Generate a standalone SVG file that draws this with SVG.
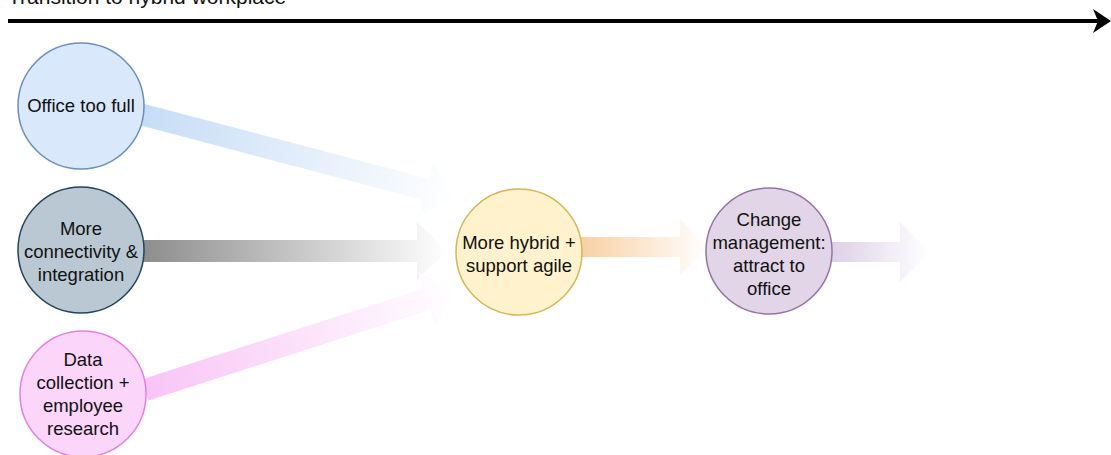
<svg xmlns="http://www.w3.org/2000/svg" width="1111" height="455" viewBox="0 0 1111 455">
<style>
  .lbl { font-family: "Liberation Sans", Arial, sans-serif; font-size: 18.5px; fill: #111; text-anchor: middle; }
  .title { font-family: "Liberation Sans", Arial, sans-serif; font-size: 21px; fill: #111; }
  .node { stroke-width: 1.5; }
</style>
<defs>
  <marker id="head" markerUnits="userSpaceOnUse" markerWidth="20" markerHeight="26" refX="5" refY="12" orient="auto" viewBox="0 0 20 26">
    <path d="M0,0 L18,12 L0,24 L5,12 z" fill="#000"/>
  </marker>
  <linearGradient id="g1" gradientUnits="userSpaceOnUse" x1="140" y1="114" x2="455" y2="197">
    <stop offset="0" stop-color="#c6dcf6"/><stop offset="1" stop-color="#ffffff"/>
  </linearGradient>
  <linearGradient id="g2" gradientUnits="userSpaceOnUse" x1="140" y1="251" x2="447" y2="251">
    <stop offset="0" stop-color="#8c8c8c"/><stop offset="1" stop-color="#ffffff"/>
  </linearGradient>
  <linearGradient id="g3" gradientUnits="userSpaceOnUse" x1="145" y1="390" x2="455" y2="290">
    <stop offset="0" stop-color="#f8c4f6"/><stop offset="1" stop-color="#ffffff"/>
  </linearGradient>
  <linearGradient id="g4" gradientUnits="userSpaceOnUse" x1="578" y1="247" x2="708" y2="247">
    <stop offset="0" stop-color="#f8cfa2"/><stop offset="1" stop-color="#ffffff"/>
  </linearGradient>
  <linearGradient id="g5" gradientUnits="userSpaceOnUse" x1="830" y1="252" x2="930" y2="252">
    <stop offset="0" stop-color="#ddd0e6"/><stop offset="1" stop-color="#ffffff"/>
  </linearGradient>
</defs>

<g id="title">
  <text class="title" x="8" y="4">Transition to hybrid workplace</text>
</g>

<g id="connectors">
  <line x1="8" y1="21" x2="1098" y2="21" stroke="#000" stroke-width="4" marker-end="url(#head)"/>
  <polygon fill="url(#g1)" points="137.2,124.6 423.2,200.0 418.9,216.4 455,197 433.1,162.3 428.8,178.7 142.8,103.4"/>
  <polygon fill="url(#g2)" points="140,240 417,240 417,222 447,251 417,280 417,262 140,262"/>
  <polygon fill="url(#g3)" points="148.4,400.5 429.8,309.7 435.1,325.9 455,290 417.9,272.6 423.1,288.7 141.6,379.5"/>
  <polygon fill="url(#g4)" points="578,237 680,237 680,219 708,247 680,275 680,257 578,257"/>
  <polygon fill="url(#g5)" points="830,242 900,242 900,222 930,252 900,282 900,262 830,262"/>
</g>

<g id="office-too-full">
  <circle class="node" cx="81" cy="106" r="63" fill="#dae8fc" stroke="#6c8ebf"/>
  <text class="lbl" x="81" y="112">Office too full</text>
</g>

<g id="connectivity">
  <circle class="node" cx="81" cy="250" r="63" fill="#bac8d3" stroke="#23445d"/>
  <text class="lbl" x="81" y="235">More</text>
  <text class="lbl" x="81" y="258">connectivity &amp;</text>
  <text class="lbl" x="81" y="281">integration</text>
</g>

<g id="data-collection">
  <circle class="node" cx="83" cy="394" r="63" fill="#fcd6fa" stroke="#e37fe3"/>
  <text class="lbl" x="83" y="366">Data</text>
  <text class="lbl" x="83" y="389">collection +</text>
  <text class="lbl" x="83" y="412">employee</text>
  <text class="lbl" x="83" y="435">research</text>
</g>

<g id="more-hybrid">
  <circle class="node" cx="519" cy="252" r="63" fill="#fff2cc" stroke="#d6b656"/>
  <text class="lbl" x="519" y="249">More hybrid +</text>
  <text class="lbl" x="519" y="272">support agile</text>
</g>

<g id="change-management">
  <circle class="node" cx="769" cy="251" r="63" fill="#e1d5e7" stroke="#9673a6"/>
  <text class="lbl" x="769" y="226">Change</text>
  <text class="lbl" x="769" y="249">management:</text>
  <text class="lbl" x="769" y="272">attract to</text>
  <text class="lbl" x="769" y="295">office</text>
</g>
</svg>
